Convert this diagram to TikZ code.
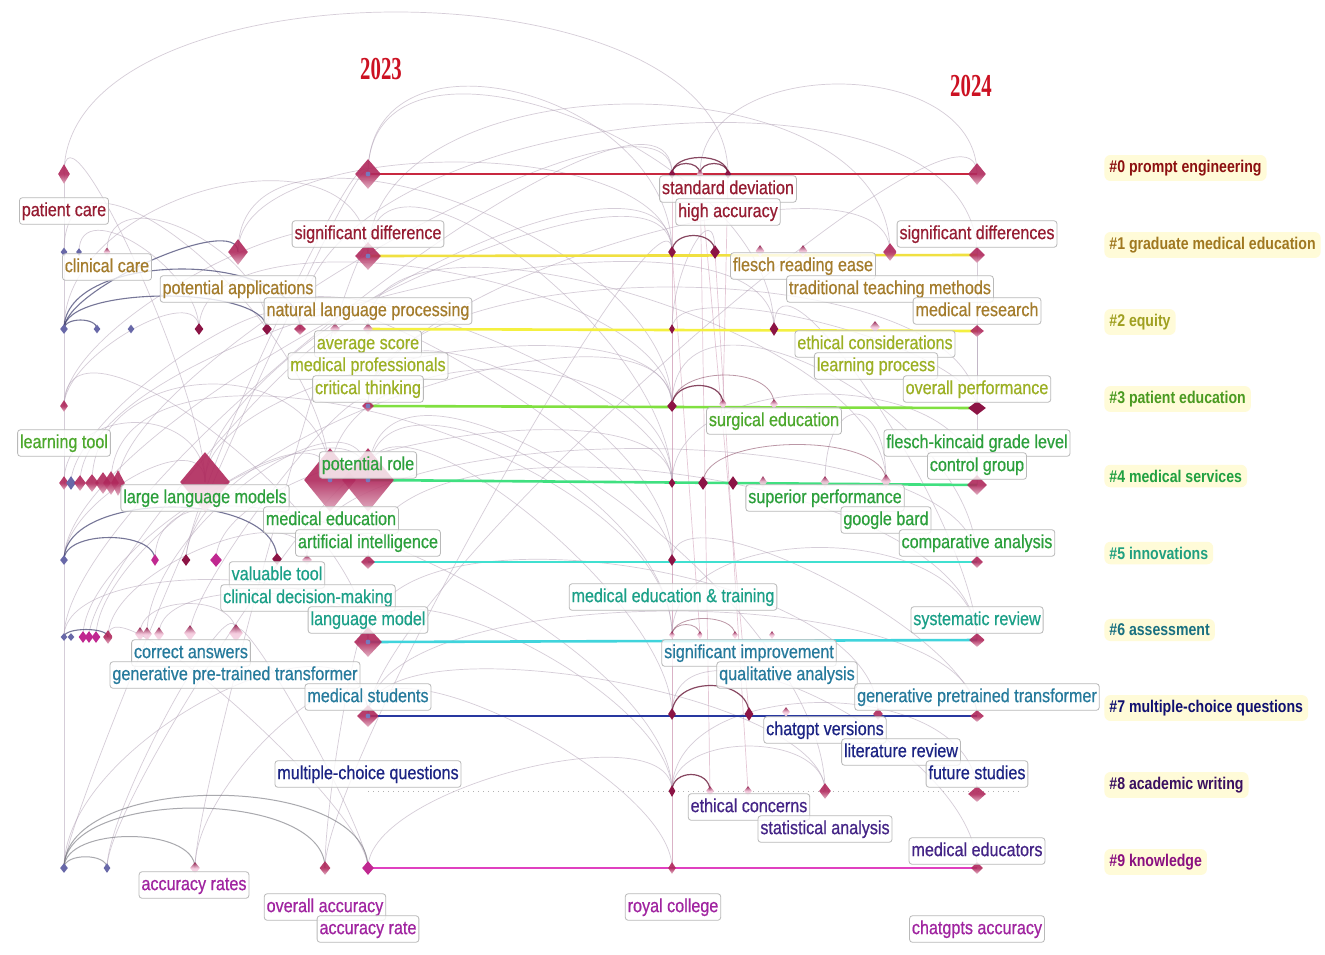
\documentclass[tikz,border=0pt]{standalone}
\usepackage{fontspec}
\usetikzlibrary{shapes.geometric}
\newfontfamily\labf[FakeStretch=0.85,FakeBold=0.6]{Liberation Sans}
\newfontfamily\clabf[FakeStretch=0.83]{Liberation Sans}
\newfontfamily\yrf[FakeStretch=0.65]{Liberation Serif}
\definecolor{crim}{HTML}{B0285C}
\definecolor{darkc}{HTML}{8C1445}
\definecolor{palec}{HTML}{F4C8DC}
\definecolor{bluec}{HTML}{6868A8}
\definecolor{magc}{HTML}{C02890}
\definecolor{dotc}{HTML}{7080C8}
\definecolor{k0}{HTML}{8C1010}\definecolor{k1}{HTML}{A07820}
\definecolor{k2}{HTML}{A0A020}\definecolor{k3}{HTML}{4A9A20}
\definecolor{k4}{HTML}{20A040}\definecolor{k5}{HTML}{20A080}
\definecolor{k6}{HTML}{1A7080}\definecolor{k7}{HTML}{101070}
\definecolor{k8}{HTML}{3A1060}\definecolor{k9}{HTML}{8A1080}
\definecolor{c0}{HTML}{961C32}\definecolor{c1}{HTML}{A47C2C}
\definecolor{c2}{HTML}{9CB024}\definecolor{c3}{HTML}{4CA82C}
\definecolor{c4}{HTML}{2CA03C}\definecolor{c5}{HTML}{1CA088}
\definecolor{c6}{HTML}{267A9C}\definecolor{c7}{HTML}{1C2484}
\definecolor{c8}{HTML}{442486}\definecolor{c9}{HTML}{A024A0}
\definecolor{t0}{HTML}{C82840}\definecolor{t1}{HTML}{F0E040}
\definecolor{t2}{HTML}{F4F040}\definecolor{t3}{HTML}{80E040}
\definecolor{t4}{HTML}{40E080}\definecolor{t5}{HTML}{40E0D0}
\definecolor{t6}{HTML}{40D4DC}\definecolor{t7}{HTML}{2838A0}
\definecolor{t9}{HTML}{E040C0}
\definecolor{yrc}{HTML}{CC1122}
\definecolor{faintc}{HTML}{B4A4B8}
\definecolor{pinkl}{HTML}{D4A4BC}
\definecolor{navyarc}{HTML}{3C3C6C}
\definecolor{greyarc}{HTML}{707078}
\definecolor{wine}{HTML}{6A1A3A}
\definecolor{glow}{HTML}{FFFBD8}
\pgfdeclarelayer{bg}
\pgfsetlayers{bg,main}
\tikzset{
  kw/.style={diamond, inner sep=0pt, draw=none},
  sz/.style 2 args={minimum width=#1*0.5pt, minimum height=#2*0.5pt},
  kwc/.style={kw, top color=crim, bottom color=crim!40, middle color=crim, fill opacity=0.9},
  kwd/.style={kw, fill=darkc},
  kwp/.style={kw, top color=darkc, bottom color=palec!70, middle color=palec, fill opacity=0.9},
  kwb/.style={kw, fill=bluec},
  kwm/.style={kw, fill=magc},
  dot/.style={path picture={\fill[dotc] (path picture bounding box.center) circle (1.2pt);}},
  lb/.style={draw=gray!55, rounded corners=1.5pt, fill=white, fill opacity=0.8, text opacity=1,
    line width=0.4pt, text=#1, font=\labf\fontsize{9.5}{10}\selectfont,
    inner xsep=1.2pt, inner ysep=2pt, text height=7.2pt, text depth=2.1pt},
  cl/.style={anchor=west, text=#1, font=\clabf\bfseries\fontsize{8.5}{10}\selectfont,
    fill=glow, rounded corners=3pt, inner sep=2.5pt},
  yr/.style={text=yrc, font=\yrf\bfseries\fontsize{16}{18}\selectfont},
  tl/.style={line width=1.3pt, draw=#1},
  faint/.style={draw=faintc, line width=0.35pt, opacity=0.55},
  faintp/.style={draw=pinkl, line width=0.35pt, opacity=0.6},
  navy/.style={draw=navyarc, line width=0.55pt, opacity=0.7},
  greya/.style={draw=greyarc, line width=0.5pt, opacity=0.6},
  winearc/.style={draw=wine, line width=0.6pt, opacity=0.8},
  winel/.style={draw=wine, line width=0.4pt, opacity=0.45},
}
\begin{document}
\begin{tikzpicture}[x=0.5pt,y=-0.5pt]
\useasboundingbox (0,0) rectangle (1325,954);
% ---------------- nodes (diamonds)
% row 0
\node[kwc,sz={12}{20}] (r0a) at (64,174) {};
\node[kwc,dot,sz={26}{30}] (r0b) at (368,174) {};
\node[kwd,sz={7}{9}] (r0c) at (672,174) {};
\node[kwp,sz={7}{9}] (r0d) at (700,174) {};
\node[kwd,sz={7}{9}] (r0e) at (728,174) {};
\node[kwc,sz={18}{22}] (r0f) at (977,174) {};
% row 1
\node[kwb,sz={7}{9}] (r1a) at (64,252) {};
\node[kwb,sz={6}{8}] (r1b) at (79,252) {};
\node[kwp,sz={7}{9}] (r1c) at (107,252) {};
\node[kwc,sz={20}{26}] (r1d) at (238,252) {};
\node[kwc,dot,sz={26}{28}] (r1e) at (368,256) {};
\node[kwd,sz={8}{12}] (r1f) at (672,252) {};
\node[kwd,sz={10}{14}] (r1g) at (715,252) {};
\node[kwp,sz={9}{12}] (r1h) at (760,251) {};
\node[kwp,sz={9}{12}] (r1i) at (803,251) {};
\node[kwc,sz={14}{18}] (r1j) at (890,252) {};
\node[kwc,sz={16}{16}] (r1k) at (977,255) {};
% row 2
\node[kwb,sz={8}{10}] (r2a) at (64,329) {};
\node[kwb,sz={7}{9}] (r2b) at (97,329) {};
\node[kwb,sz={7}{9}] (r2c) at (131,329) {};
\node[kwd,sz={9}{12}] (r2d) at (199,329) {};
\node[kwd,sz={10}{12}] (r2e) at (267,329) {};
\node[kwc,sz={12}{12}] (r2f) at (300,329) {};
\node[kwp,sz={10}{12}] (r2g) at (335,329) {};
\node[kwp,sz={10}{12}] (r2h) at (368,329) {};
\node[kwd,sz={6}{10}] (r2i) at (672,329) {};
\node[kwd,sz={9}{14}] (r2j) at (774,329) {};
\node[kwp,sz={10}{12}] (r2k) at (875,327) {};
\node[kwc,sz={14}{12}] (r2l) at (977,331) {};
% row 3
\node[kwc,sz={8}{12}] (r3a) at (64,406) {};
\node[kwc,dot,sz={12}{12}] (r3b) at (368,406) {};
\node[kwd,sz={10}{12}] (r3c) at (672,406) {};
\node[kwp,sz={8}{10}] (r3d) at (723,404) {};
\node[kwp,sz={8}{10}] (r3e) at (774,404) {};
\node[kwd,sz={18}{14}] (r3f) at (977,408) {};
% row 4
\node[kwc,sz={10}{14}] (r4a) at (64,483) {};
\node[kwb,sz={10}{14}] (r4b) at (71,483) {};
\node[kwc,sz={12}{16}] (r4c) at (80,483) {};
\node[kwc,sz={14}{18}] (r4d) at (92,483) {};
\node[kwc,sz={16}{22}] (r4e) at (103,483) {};
\node[kwc,sz={16}{24}] (r4f) at (111,483) {};
\node[kwc,sz={14}{26}] (r4g) at (118,483) {};
\node[kwc,sz={50}{60}] (r4h) at (205,482) {};
\node[kwc,dot,sz={52}{64}] (r4i) at (330,480) {};
\node[kwc,dot,sz={52}{64}] (r4j) at (368,480) {};
\node[kwd,sz={7}{10}] (r4k) at (672,483) {};
\node[kwd,sz={10}{14}] (r4l) at (703,483) {};
\node[kwd,sz={10}{14}] (r4m) at (733,483) {};
\node[kwp,sz={8}{12}] (r4n) at (763,482) {};
\node[kwp,sz={9}{12}] (r4o) at (825,482) {};
\node[kwp,sz={10}{14}] (r4p) at (886,481) {};
\node[kwc,sz={20}{20}] (r4q) at (977,485) {};
% row 5
\node[kwb,sz={8}{10}] (r5a) at (64,560) {};
\node[kwm,sz={8}{12}] (r5b) at (155,560) {};
\node[kwd,sz={9}{12}] (r5c) at (186,560) {};
\node[kwm,sz={12}{14}] (r5d) at (216,560) {};
\node[kwd,sz={10}{12}] (r5e) at (277,559) {};
\node[kwp,sz={10}{10}] (r5f) at (307,560) {};
\node[kwc,sz={14}{14}] (r5g) at (368,562) {};
\node[kwd,sz={8}{12}] (r5h) at (672,560) {};
\node[kwc,sz={12}{12}] (r5i) at (977,562) {};
% row 6
\node[kwb,sz={7}{8}] (r6a) at (64,637) {};
\node[kwb,sz={7}{8}] (r6b) at (71,637) {};
\node[kwm,sz={9}{12}] (r6c) at (83,637) {};
\node[kwm,sz={9}{12}] (r6d) at (89,637) {};
\node[kwm,sz={9}{12}] (r6e) at (96,637) {};
\node[kwc,sz={10}{14}] (r6f) at (108,637) {};
\node[kwp,sz={10}{14}] (r6g) at (140,634) {};
\node[kwp,sz={10}{14}] (r6h) at (147,634) {};
\node[kwp,sz={10}{14}] (r6i) at (159,634) {};
\node[kwp,sz={12}{16}] (r6j) at (190,633) {};
\node[kwp,sz={14}{18}] (r6k) at (236,633) {};
\node[kwc,dot,sz={28}{30}] (r6l) at (368,642) {};
\node[kwp,sz={6}{8}] (r6m) at (672,635) {};
\node[kwp,sz={6}{8}] (r6n) at (700,635) {};
\node[kwp,sz={6}{8}] (r6o) at (735,635) {};
\node[kwp,sz={6}{8}] (r6p) at (772,635) {};
\node[kwc,sz={16}{14}] (r6q) at (977,640) {};
% row 7
\node[kwc,dot,sz={22}{22}] (r7a) at (368,716) {};
\node[kwd,sz={8}{12}] (r7b) at (672,714) {};
\node[kwd,sz={9}{14}] (r7c) at (749,714) {};
\node[kwp,sz={8}{10}] (r7d) at (786,712) {};
\node[kwc,sz={10}{12}] (r7e) at (878,714) {};
\node[kwc,sz={14}{12}] (r7f) at (977,716) {};
% row 8
\node[kwd,sz={7}{12}] (r8a) at (672,791) {};
\node[kwp,sz={8}{10}] (r8b) at (710,791) {};
\node[kwp,sz={8}{10}] (r8c) at (748,791) {};
\node[kwc,sz={12}{16}] (r8d) at (825,791) {};
\node[kwc,sz={18}{16}] (r8e) at (977,794) {};
\coordinate (c8s) at (368,791);
\coordinate (c8e) at (1022,791);
% row 9
\node[kwb,sz={8}{10}] (r9a) at (64,868) {};
\node[kwb,sz={7}{10}] (r9b) at (107,868) {};
\node[kwp,sz={10}{12}] (r9c) at (195,868) {};
\node[kwc,sz={11}{14}] (r9d) at (325,868) {};
\node[kwm,sz={12}{14}] (r9e) at (368,868) {};
\node[kwc,sz={8}{12}] (r9f) at (672,868) {};
\node[kwc,sz={12}{12}] (r9g) at (977,868) {};

% ---------------- background: arcs and timelines
\begin{pgfonlayer}{bg}
\fill[white] (0,0) rectangle (1325,954);
% vertical bundles
\draw[faint] (r0a.center) -- (r9a.center);
\foreach \a/\b in {r0c/r9f, r0d/r8b, r0e/r3d, r1g/r8c, r0d/r7c, r2i/r9f, r1f/r6n}
  {\draw[faintp] (\a.center) -- (\b.center);}
% faint arcs
\draw[faint] (r0a.center) .. controls +(0,-216) and +(0,-216) .. (r0e.center);
\foreach \a/\b/\h in {
 r0d/r0f/120, r1d/r1f/120, r1e/r4k/150, r2a/r1e/140, r2d/r3c/130, r2e/r4k/100,
 r2f/r5h/90, r1b/r2d/60, r1c/r2e/80, r3a/r2d/50, r4a/r4h/80, r4d/r4i/130,
 r4g/r0c/120, r4h/r1f/140, r4h/r3c/120, r4i/r4k/150, r4j/r6m/140, r4j/r7b/120,
 r5a/r4h/60, r5c/r3c/130, r5d/r4k/110, r6e/r4i/90, r6f/r5f/70, r6g/r6k/40,
 r6h/r4j/110, r6i/r6l/60, r6l/r8a/100, r6k/r9e/40, r6a/r6l/80, r7a/r7f/140,
 r7a/r8d/100, r7a/r9f/90, r8a/r8d/60, r8a/r8e/120, r9a/r7a/130, r9c/r7a/90,
 r9d/r6l/80, r9e/r8a/80, r3b/r3f/160, r3b/r1j/120, r5f/r5i/150, r2l/r4q/60,
 r1k/r3f/40, r4k/r4q/120, r4o/r4p/90, r6m/r6q/120, r5h/r7f/80, r1g/r2i/60,
 r2i/r3f/60, r0b/r1f/160, r0b/r2j/180, r1e/r1j/200, r2h/r4p/150, r3b/r5h/140,
 r5g/r6q/170, r6l/r7e/150, r4j/r8d/200, r1d/r3c/170, r2f/r1k/220, r0a/r4h/90,
 r1a/r4i/150, r3a/r6l/120, r4c/r2j/160, r4f/r6m/190, r6c/r4j/100, r6f/r9e/60,
 r9b/r6k/60, r5b/r8a/160, r7b/r9g/120, r3c/r5i/150, r2j/r6q/110,
 r9a/r0b/60, r9c/r1e/80, r6a/r0c/150, r5a/r1f/140, r7a/r0f/120, r9d/r1f/100,
 r6d/r2h/70, r5c/r0b/60, r6j/r3b/50, r9b/r4j/70, r3a/r1e/90, r4b/r2f/70}
 {\draw[faint] (\a.center) .. controls +(0,-\h) and +(0,-\h) .. (\b.center);}
% timelines
\draw[tl=t0] (r0b.center) -- (r0f.center);
\draw[tl=t1] (r1e.center) -- (r1k.center);
\draw[tl=t2] (r2h.center) -- (r2l.center);
\draw[tl=t3] (r3b.center) -- (r3f.center);
\draw[tl=t4] (r4j.center) -- (r4q.center);
\draw[tl=t5] (r5g.center) -- (r5i.center);
\draw[tl=t6] (r6l.center) -- (r6q.center);
\draw[tl=t7] (r7a.center) -- (r7f.center);
\draw[draw=gray!60, dotted, line width=0.5pt] (c8s) -- (c8e);
\draw[tl=t9] (r9e.center) -- (r9g.center);
% darker arcs
\foreach \a/\b/\h in {r2a/r2e/44, r2a/r2f/80, r2a/r1d/40, r5a/r5b/30, r5a/r5e/70,
  r2a/r2b/12, r6a/r6f/10}
 {\draw[navy] (\a.center) .. controls +(0,-\h) and +(0,-\h) .. (\b.center);}
\foreach \a/\b/\h in {r9a/r9b/15, r9a/r9c/42, r9a/r9d/80, r9a/r9e/97}
 {\draw[greya] (\a.center) .. controls +(0,-\h) and +(0,-\h) .. (\b.center);}
\foreach \a/\b/\h in {r0c/r0d/14, r0c/r0e/22, r0d/r0e/14, r1f/r1g/22, r3c/r3d/26,
  r7b/r7c/38, r8a/r8b/22}
 {\draw[winearc] (\a.center) .. controls +(0,-\h) and +(0,-\h) .. (\b.center);}
\foreach \a/\b/\h in {r3c/r3e/40, r6m/r6n/14, r6m/r6o/22, r4l/r4p/50}
 {\draw[winel] (\a.center) .. controls +(0,-\h) and +(0,-\h) .. (\b.center);}
\end{pgfonlayer}

% ---------------- keyword labels
\node[lb=c0] (lpc) at (64,211) {patient care};
\node[lb=c1] (lcc) at (107,267) {clinical care};
\node[lb=c1] (lpa) at (238,289) {potential applications};
\node[lb=c1] (lnlp) at (368,311) {natural language processing};
\node[lb=c0] (lsd) at (368,234) {significant difference};
\node[lb=c2] (las) at (368,344) {average score};
\node[lb=c2] (lmp) at (368,366) {medical professionals};
\node[lb=c2] (lct) at (368,389) {critical thinking};
\node[lb=c3] (llt) at (64,443) {learning tool};
\node[lb=c4] (lllm) at (205,498) {large language models};
\node[lb=c4] (lpr) at (368,465) {potential role};
\node[lb=c4] (lme) at (331,520) {medical education};
\node[lb=c4] (lai) at (368,543) {artificial intelligence};
\node[lb=c5] (lvt) at (277,575) {valuable tool};
\node[lb=c5] (lcdm) at (308,598) {clinical decision-making};
\node[lb=c5] (llm) at (368,620) {language model};
\node[lb=c6] (lca) at (191,653) {correct answers};
\node[lb=c6] (lgpt) at (235,675) {generative pre-trained transformer};
\node[lb=c6] (lms) at (368,697) {medical students};
\node[lb=c7] (lmcq) at (368,774) {multiple-choice questions};
\node[lb=c9] (lars) at (194,885) {accuracy rates};
\node[lb=c9] (loa) at (325,907) {overall accuracy};
\node[lb=c9] (lar) at (368,929) {accuracy rate};
\node[lb=c0] (lstd) at (728,189) {standard deviation};
\node[lb=c0] (lha) at (728,212) {high accuracy};
\node[lb=c0] (lsds) at (977,234) {significant differences};
\node[lb=c1] (lfre) at (803,266) {flesch reading ease};
\node[lb=c1] (lttm) at (890,289) {traditional teaching methods};
\node[lb=c1] (lmr) at (977,311) {medical research};
\node[lb=c2] (lec) at (875,344) {ethical considerations};
\node[lb=c2] (llp) at (876,366) {learning process};
\node[lb=c2] (lop) at (977,389) {overall performance};
\node[lb=c3] (lse) at (774,421) {surgical education};
\node[lb=c4] (lfk) at (977,443) {flesch-kincaid grade level};
\node[lb=c4] (lcg) at (977,466) {control group};
\node[lb=c4] (lsp) at (825,498) {superior performance};
\node[lb=c4] (lgb) at (886,520) {google bard};
\node[lb=c4] (lcan) at (977,543) {comparative analysis};
\node[lb=c5] (lmet) at (673,597) {medical education \& training};
\node[lb=c5] (lsr) at (977,620) {systematic review};
\node[lb=c6] (lsi) at (749,653) {significant improvement};
\node[lb=c6] (lqa) at (787,675) {qualitative analysis};
\node[lb=c6] (lgpt2) at (977,697) {generative pretrained transformer};
\node[lb=c7] (lcv) at (825,730) {chatgpt versions};
\node[lb=c7] (llr) at (901,752) {literature review};
\node[lb=c7] (lfs) at (977,774) {future studies};
\node[lb=c8] (lecn) at (749,807) {ethical concerns};
\node[lb=c8] (lsta) at (825,829) {statistical analysis};
\node[lb=c8] (lmed) at (977,851) {medical educators};
\node[lb=c9] (lrc) at (673,907) {royal college};
\node[lb=c9] (lcga) at (977,929) {chatgpts accuracy};

% ---------------- cluster labels
\node[cl=k0] (k0n) at (1104,168) {\#0 prompt engineering};
\node[cl=k1] (k1n) at (1104,245) {\#1 graduate medical education};
\node[cl=k2] (k2n) at (1104,322) {\#2 equity};
\node[cl=k3] (k3n) at (1104,399) {\#3 patient education};
\node[cl=k4] (k4n) at (1104,476) {\#4 medical services};
\node[cl=k5] (k5n) at (1104,553) {\#5 innovations};
\node[cl=k6] (k6n) at (1104,630) {\#6 assessment};
\node[cl=k7] (k7n) at (1104,708) {\#7 multiple-choice questions};
\node[cl=k8] (k8n) at (1104,785) {\#8 academic writing};
\node[cl=k9] (k9n) at (1104,862) {\#9 knowledge};

% ---------------- years
\node[yr] (y23) at (381,69) {2023};
\node[yr] (y24) at (971,86) {2024};
\end{tikzpicture}
\end{document}
